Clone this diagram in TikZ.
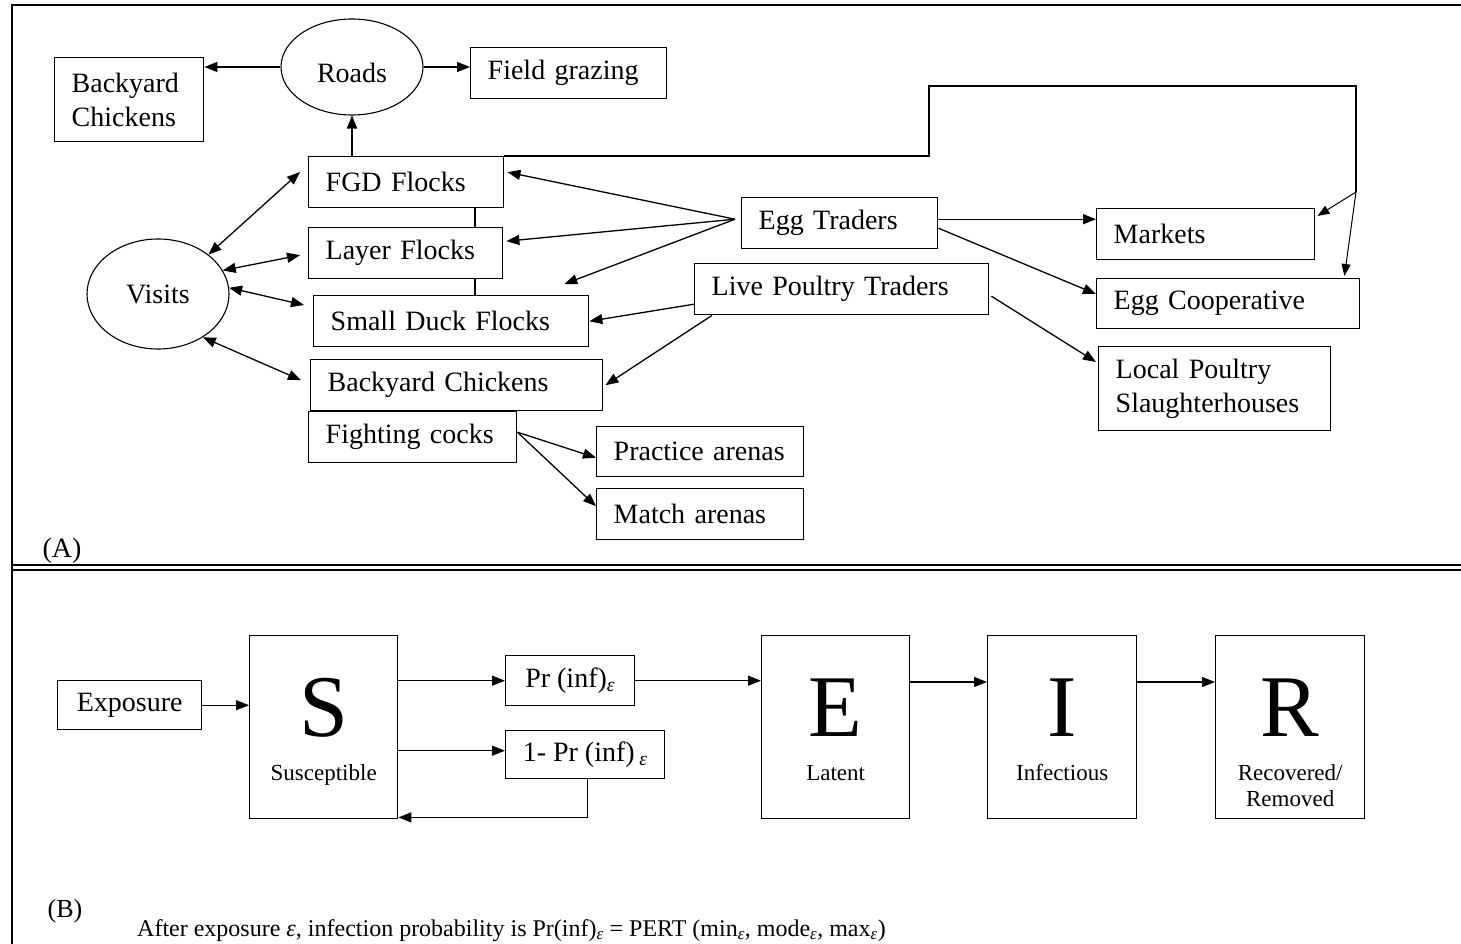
\documentclass[tikz,border=0pt]{standalone}
\usepackage{fontspec}
\setmainfont{Liberation Serif}
\usetikzlibrary{arrows.meta,shapes.geometric,calc}
\newcommand\epsub{\textsubscript{\itshape ε}}
\begin{document}
\begin{tikzpicture}[x=1pt,y=-1pt,
  every node/.style={font=\fontsize{28}{34}\selectfont},
  box/.style={draw, line width=1.4pt, anchor=north west, inner xsep=17pt, inner ysep=0pt, align=left},
  oval/.style={draw, ellipse, line width=1.1pt, inner sep=0pt},
  arr/.style={line width=1.3pt, -{Triangle[length=13pt,width=10pt]}},
  thinarr/.style={line width=1pt, -{Triangle[length=12pt,width=9pt]}},
  darr/.style={line width=1.3pt, {Triangle[length=13pt,width=10pt]}-{Triangle[length=13pt,width=10pt]}},
  ln/.style={line width=1.3pt},
  big/.style={font=\fontsize{88}{88}\selectfont, anchor=base, inner sep=0pt},
  lab/.style={font=\fontsize{23}{26}\selectfont, anchor=base, inner sep=0pt},
  txt/.style={font=\fontsize{26}{26}\selectfont, inner sep=0pt}
]
\useasboundingbox (0,0) rectangle (1461,944);
% frame
\draw[line width=2.5pt] (12,944) -- (12,5) -- (1461,5);
\draw[line width=1.5pt] (12,565) -- (1461,565);
\draw[line width=1.5pt] (12,570) -- (1461,570);

% ---------- Panel A ----------
\node[box, text width=115pt, minimum height=84pt] (bc1) at (54,57) {Backyard\\Chickens};
\node[oval, minimum width=142pt, minimum height=96pt, text height=31pt, text depth=0pt] (roads) at (352,67) {Roads};
\node[box, text width=162pt, minimum height=51pt] (field) at (470,47) {Field grazing};
\node[box, text width=161pt, minimum height=51pt] (fgd) at (308,156) {FGD Flocks};
\node[box, text width=160pt, minimum height=51pt] (layer) at (308,227) {Layer Flocks};
\node[box, text width=241pt, minimum height=51pt] (duck) at (313,295) {Small Duck Flocks};
\node[box, text width=258pt, minimum height=51pt] (bc2) at (310,359) {Backyard Chickens};
\node[box, text width=174pt, minimum height=51pt] (fight) at (308,411) {Fighting cocks};
\node[box, text width=173pt, minimum height=50pt] (practice) at (596,426) {Practice arenas};
\node[box, text width=173pt, minimum height=51pt] (match) at (596,488) {Match arenas};
\node[oval, minimum width=142pt, minimum height=110pt] (visits) at (158,294) {Visits};
\node[box, text width=162pt, minimum height=51pt] (egg) at (741,197) {Egg Traders};
\node[box, text width=260pt, minimum height=51pt] (lpt) at (694,263) {Live Poultry Traders};
\node[box, text width=184pt, minimum height=51pt] (markets) at (1096,208) {Markets};
\node[box, text width=229pt, minimum height=50pt] (coop) at (1096,278) {Egg Cooperative};
\node[box, text width=198pt, minimum height=84pt] (lps) at (1098,346) {Local Poultry\\Slaughterhouses};
\node[txt, font=\fontsize{28}{28}\selectfont] (labA) at (62,551) {(A)};

\draw[arr] (roads.west) -- (roads.west -| bc1.east);
\draw[arr] (roads.east) -- (roads.east -| field.west);
\draw[arr] (roads.south |- fgd.north) -- (roads.south);
\coordinate (j) at (475,0);
\draw[ln] (fgd.south -| j) -- (layer.north -| j);
\draw[ln] (layer.south -| j) -- (duck.north -| j);
\coordinate (b1) at (929,156);
\coordinate (b2) at (1356,86);
\coordinate (split) at (1356,192);
\draw[ln] (fgd.north east) -- (b1) |- (b2) -- (split);
\draw[thinarr] (split) -- ([xshift=2pt,yshift=-8pt]markets.north east);
\draw[thinarr] (split) -- ([xshift=-16pt,yshift=2pt]coop.north east);

\draw[darr] (visits.38) -- ([xshift=-8pt,yshift=-16pt]fgd.north west);
\draw[darr] (visits.20) -- ([xshift=-8pt,yshift=-2pt]layer.west);
\draw[darr] (visits.5) -- ([xshift=-9pt,yshift=-10pt]duck.north west);
\draw[darr] (visits.-44) -- ([xshift=-9pt,yshift=5pt]bc2.west);

\coordinate (es) at ([xshift=-6pt,yshift=4pt]egg.west);
\draw[arr] (es) -- ([xshift=3pt,yshift=10pt]fgd.east);
\draw[arr] (es) -- ([xshift=3pt,yshift=12pt]layer.east);
\draw[arr] (es) -- ([xshift=-25pt,yshift=11pt]duck.north east);
\coordinate (ms) at ([yshift=4pt]egg.east);
\draw[arr] (ms) -- (ms -| markets.west);
\draw[arr] ([yshift=-5pt]egg.east) -- ([yshift=-16pt]coop.north west);
\draw[arr] ([xshift=2pt,yshift=-7pt]lpt.east) -- ([xshift=-2pt,yshift=-16pt]lps.north west);
\draw[arr] ([yshift=-15pt]lpt.west) -- (duck.east);
\draw[arr] ([xshift=18pt]lpt.south west) -- ([xshift=2pt]bc2.east);
\draw[arr] ([yshift=5pt]fight.east) -- ([yshift=-6pt]practice.west);
\draw[arr] ([yshift=5pt]fight.east) -- ([yshift=8pt]match.west);

% ---------- Panel B ----------
\node[box, align=center, text width=110pt, minimum height=49pt] (expo) at (57,680) {Exposure};
\node[box, minimum width=148pt, minimum height=183pt] (S) at (249,635) {};
\node[box, inner xsep=0pt, align=center, minimum width=129pt, minimum height=50pt] (pr) at (505,655) {Pr (inf)\epsub};
\node[box, inner xsep=0pt, align=center, minimum width=159pt, minimum height=48pt] (npr) at (505,730) {1- Pr (inf)\,\epsub};
\node[box, minimum width=148pt, minimum height=183pt] (E) at (761,635) {};
\node[box, minimum width=149pt, minimum height=183pt] (I) at (987,635) {};
\node[box, minimum width=149pt, minimum height=183pt] (R) at (1215,635) {};

\node[big] (Sl) at ($(S.north)+(0,101)$) {S};
\node[lab] (St) at ($(S.north)+(0,145)$) {Susceptible};
\node[big] (El) at ($(E.north)+(0,101)$) {E};
\node[lab] (Et) at ($(E.north)+(0,145)$) {Latent};
\node[big] (Il) at ($(I.north)+(0,101)$) {I};
\node[lab] (It) at ($(I.north)+(0,145)$) {Infectious};
\node[big] (Rl) at ($(R.north)+(0,101)$) {R};
\node[lab] (Rt1) at ($(R.north)+(0,145)$) {Recovered/};
\node[lab] (Rt2) at ($(R.north)+(0,171)$) {Removed};

\draw[arr] (expo.east) -- (expo.east -| S.west);
\draw[arr] (pr.west -| S.east) -- (pr.west);
\coordinate (nw) at ([yshift=4pt]npr.west);
\draw[arr] (nw -| S.east) -- (nw);
\draw[arr] ([xshift=2pt]npr.south) |- ([yshift=2pt]S.south east);
\draw[arr] (pr.east) -- (pr.east -| E.west);
\coordinate (ei) at ([yshift=-47pt]E.north east);
\draw[arr] (ei) -- (ei -| I.west);
\coordinate (ir) at ([yshift=-47pt]I.north east);
\draw[arr] (ir) -- (ir -| R.west);

\node[txt] (labB) at (65,911) {(B)};
\node[txt, font=\fontsize{24}{26}\selectfont, anchor=base west] (caption) at (137,936)
  {After exposure \textit{ε}, infection probability is Pr(inf)\epsub{} = PERT (min\epsub, mode\epsub, max\epsub)};
\end{tikzpicture}
\end{document}
